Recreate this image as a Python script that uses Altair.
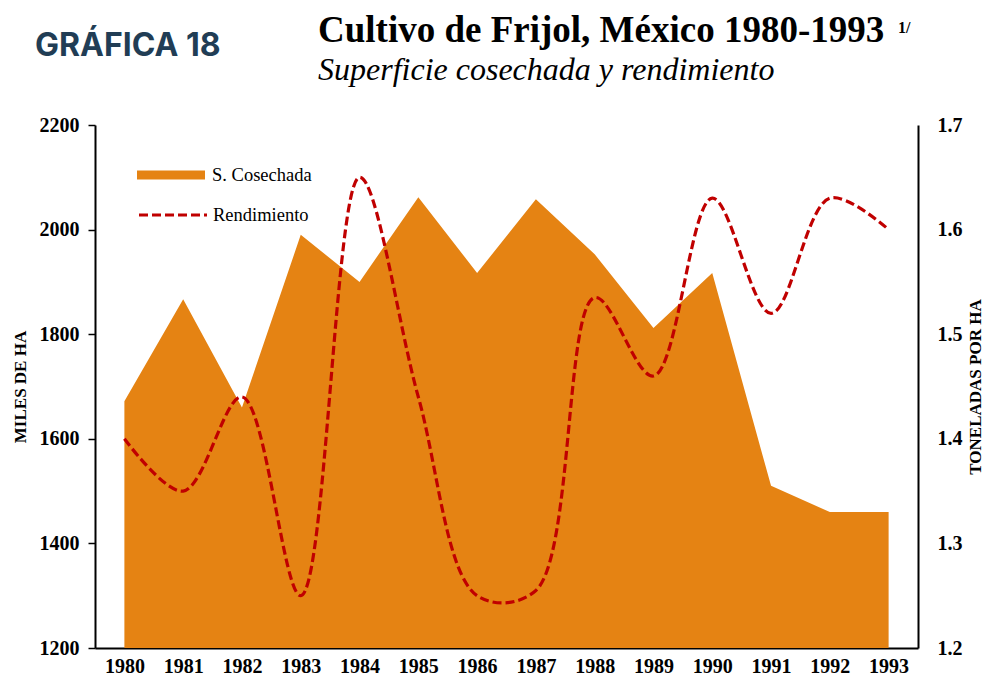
import altair as alt
import pandas as pd

# ---- data ----
years = ["1980", "1981", "1982", "1983", "1984", "1985", "1986",
         "1987", "1988", "1989", "1990", "1991", "1992", "1993"]
superficie = [1672, 1867, 1660, 1990, 1900, 2062, 1917,
              2058, 1953, 1812, 1917, 1510, 1460, 1460]
rendimiento = [1.40, 1.35, 1.44, 1.25, 1.65, 1.44, 1.25,
               1.255, 1.535, 1.46, 1.63, 1.52, 1.63, 1.60]
left_ticks = [1200, 1400, 1600, 1800, 2000, 2200]
right_ticks = [1.2, 1.3, 1.4, 1.5, 1.6, 1.7]
series_names = ["S. Cosechada", "Rendimiento"]

ORANGE = "#E58313"
RED = "#C00000"
SERIF = "Liberation Serif"

df = pd.DataFrame({
    "year": years,
    "superficie": superficie,
    "rendimiento": rendimiento,
    "s_label": series_names[0],
    "r_label": series_names[1],
})

W, H = 823, 523

x_enc = alt.X(
    "year:O",
    scale=alt.Scale(type="point", padding=0.5),
    axis=alt.Axis(title=None, labelAngle=0, ticks=False, domainColor="black",
                  domainWidth=2, labelFont=SERIF, labelFontWeight="bold",
                  labelFontSize=20, labelColor="black", labelPadding=8,
                  labelBaseline="top"),
)

area = alt.Chart(df).mark_area(opacity=1).encode(
    x=x_enc,
    y=alt.Y("superficie:Q",
            scale=alt.Scale(domain=[1200, 2200], nice=False, zero=False),
            axis=alt.Axis(values=left_ticks, orient="left", grid=False,
                          format="d",
                          tickSize=7, tickColor="black", tickWidth=1.5,
                          domainColor="black", domainWidth=2,
                          labelFont=SERIF, labelFontWeight="bold",
                          labelFontSize=20, labelColor="black",
                          labelPadding=9,
                          title="MILES DE HA", titleFont=SERIF,
                          titleFontWeight="bold", titleFontSize=17,
                          titleColor="black", titleAngle=270,
                          titleX=-75, titleY=H / 2, titleAlign="center",
                          titleBaseline="middle")),
    y2=alt.datum(1200),
    fill=alt.Fill("s_label:N",
                  scale=alt.Scale(domain=[series_names[0]], range=[ORANGE]),
                  legend=alt.Legend(title=None, orient="none", legendX=42,
                                    legendY=16, padding=0,
                                    symbolType="M-1,-0.13H1V0.13H-1Z",
                                    symbolSize=4624, symbolStrokeWidth=0,
                                    symbolOpacity=1,
                                    labelFont=SERIF, labelFontSize=18.5,
                                    labelColor="black", labelOffset=7)),
)

line = alt.Chart(df).mark_line(strokeDash=[9, 4], strokeWidth=3.2,
                               interpolate="catmull-rom").encode(
    x=x_enc,
    y=alt.Y("rendimiento:Q",
            scale=alt.Scale(domain=[1.2, 1.7], nice=False, zero=False),
            axis=alt.Axis(values=right_ticks, orient="right", format=".1f",
                          grid=False, ticks=False, domainColor="black",
                          domainWidth=2, labelFont=SERIF,
                          labelFontWeight="bold", labelFontSize=20,
                          labelColor="black", labelPadding=19,
                          title="TONELADAS POR HA", titleFont=SERIF,
                          titleFontWeight="bold", titleFontSize=17,
                          titleColor="black", titleAngle=270,
                          titleX=57, titleY=H / 2, titleAlign="center",
                          titleBaseline="middle")),
    stroke=alt.Stroke("r_label:N",
                      scale=alt.Scale(domain=[series_names[1]], range=[RED]),
                      legend=alt.Legend(title=None, orient="none", legendX=42,
                                        legendY=54, padding=0,
                                        symbolType="stroke", symbolSize=4624,
                                        symbolDash=[9, 4],
                                        symbolStrokeWidth=3.2,
                                        labelFont=SERIF, labelFontSize=18.5,
                                        labelColor="black", labelOffset=4)),
)


def label(text, **kw):
    return alt.Chart(alt.Data(values=[{"t": text}])).mark_text(
        align="left", baseline="alphabetic", **kw
    ).encode(text="t:N")


t_graf = label("GRÁFICA 18", font="Inter", fontWeight="bold", fontSize=32,
               color="#213D55", x=-60, y=-69)
t_title = label("Cultivo de Frijol, México 1980-1993", font=SERIF,
                fontWeight="bold", fontSize=37, color="black", x=223, y=-83)
t_sup = label("1/", font=SERIF, fontWeight="bold", fontSize=16,
              color="black", x=803, y=-92)
t_sub = label("Superficie cosechada y rendimiento", font=SERIF,
              fontStyle="italic", fontSize=32, color="black", x=223, y=-45)

chart = alt.layer(area, line, t_graf, t_title, t_sup, t_sub).resolve_scale(
    y="independent", fill="independent", stroke="independent"
).properties(
    width=W, height=H,
    autosize=alt.AutoSizeParams(type="none"),
    padding={"left": 87, "top": 117, "right": 66, "bottom": 28},
    background="white",
).configure_view(stroke=None)

chart.save("out.html", embed_options={"renderer": "svg", "actions": False})
